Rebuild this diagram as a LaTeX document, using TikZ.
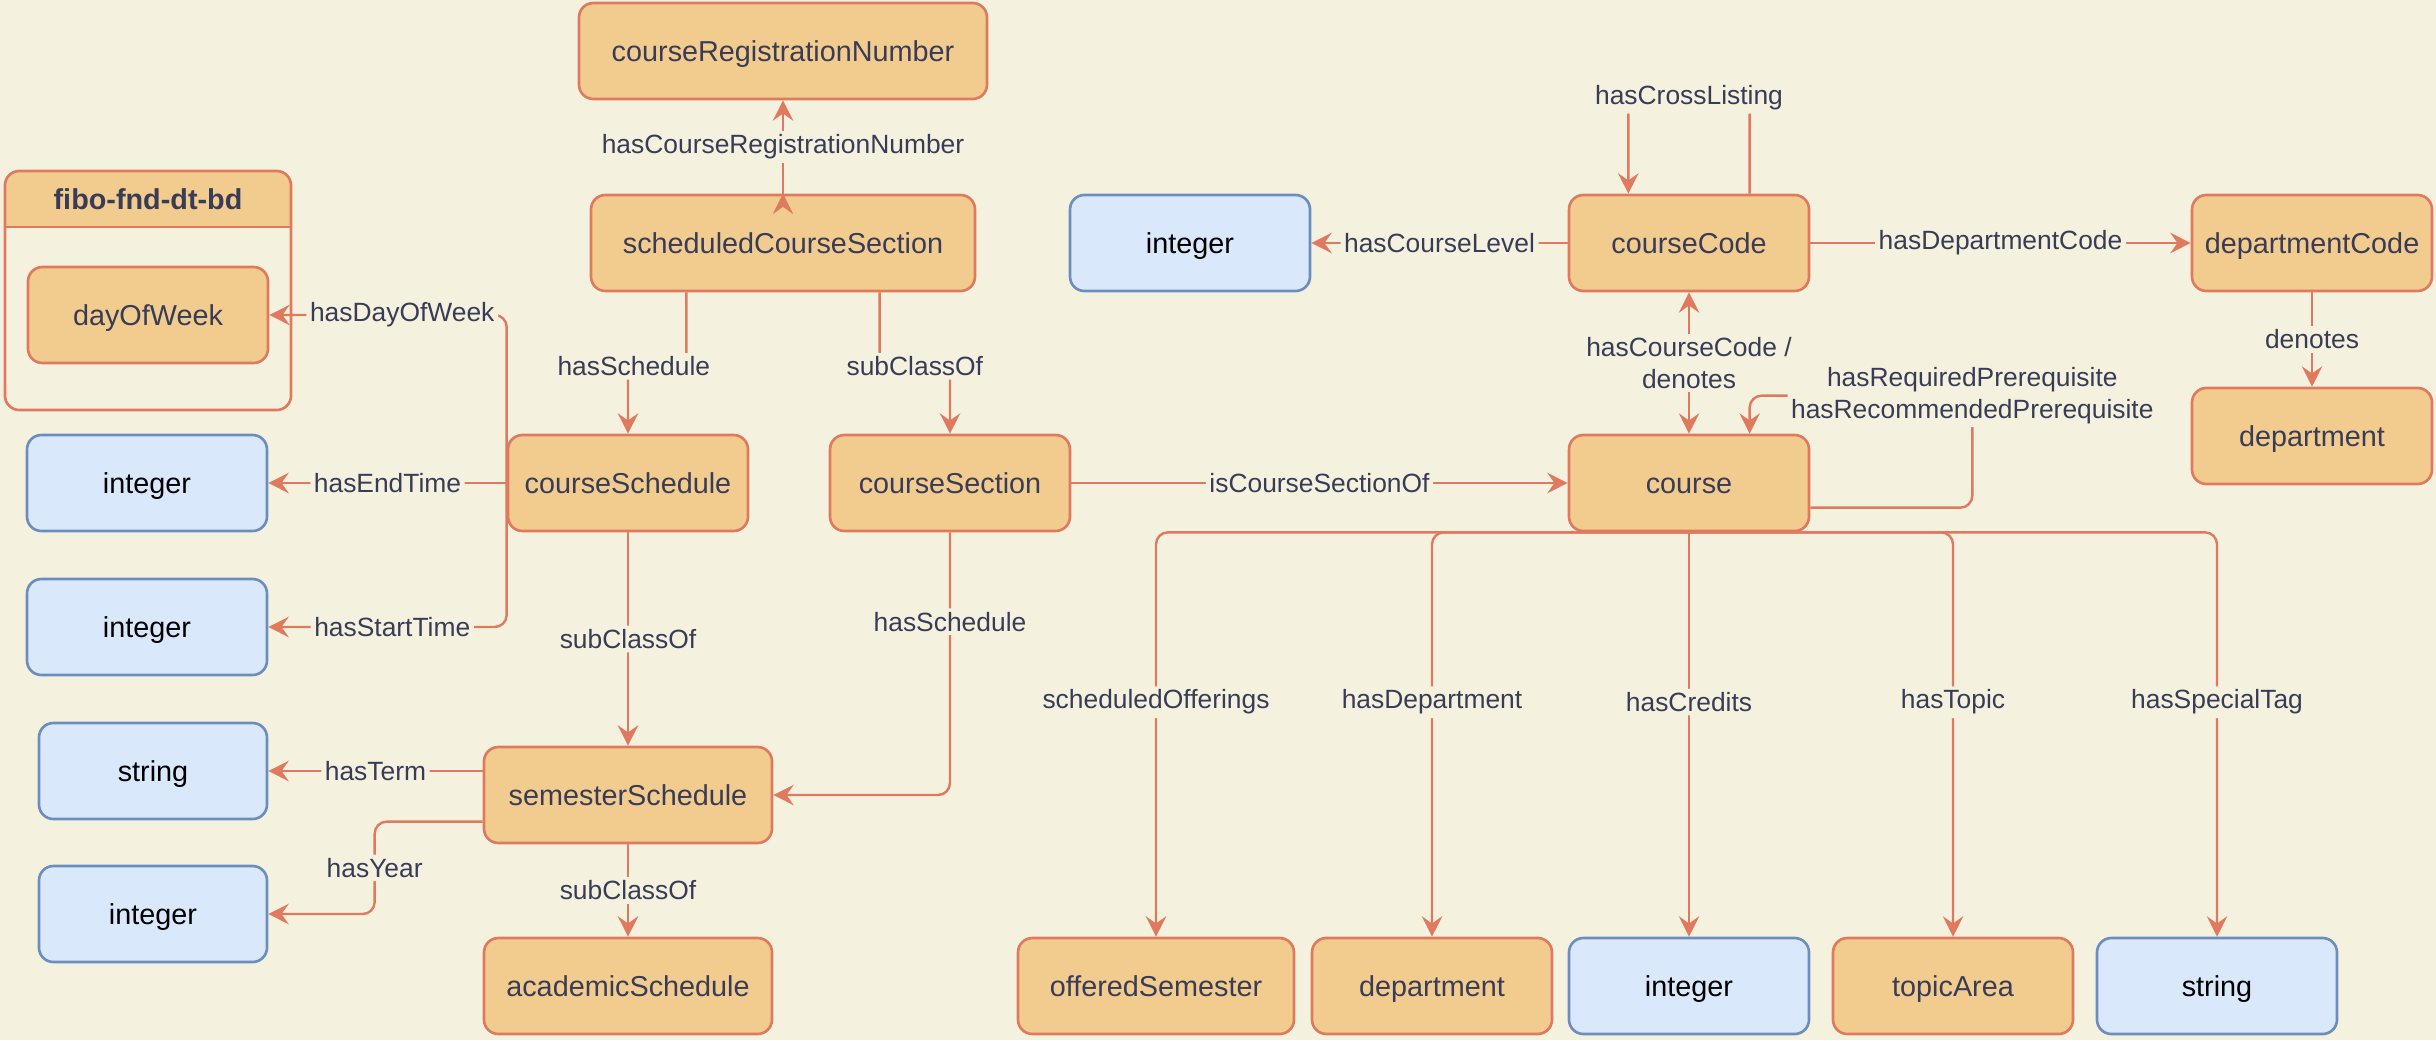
\documentclass[tikz,border=0pt]{standalone}
\usepackage{fontspec}
\setmainfont{Liberation Sans}
\usetikzlibrary{arrows.meta,calc}

\definecolor{bgC}{HTML}{F4F1DE}
\definecolor{clsF}{HTML}{F2CC8F}
\definecolor{clsD}{HTML}{E07A5F}
\definecolor{txtC}{HTML}{393C56}
\definecolor{dtF}{HTML}{DAE8FC}
\definecolor{dtD}{HTML}{6C8EBF}

\begin{document}
\begin{tikzpicture}[
                x=0.41667pt, y=-0.41667pt,
                >={Stealth[length=8.5pt,width=8.5pt,inset=3pt]},
                cls/.style={draw=clsD,fill=clsF,text=txtC,line width=1.1pt,rounded corners=6pt,
                            minimum width=100pt,minimum height=40pt,inner sep=0pt,
                            text height=8.6pt,text depth=0pt,
                            font=\fontsize{12}{14}\selectfont},
                dtype/.style={cls,draw=dtD,fill=dtF,text=black},
                rel/.style={draw,color=clsD,line width=1pt,->,rounded corners=5pt},
                lbl/.style={fill=bgC,text=txtC,inner sep=1.5pt,align=center,
                            font=\fontsize{11}{13}\selectfont}] %

\fill[bgC] (0,0) rectangle (2436,1040);
\useasboundingbox (0,0) rectangle (2436,1040);

                    % fibo-fnd-dt-bd
                    \node[minimum width=119.2pt,minimum height=99.6pt,inner sep=0pt,outer sep=0pt] (FIBO) at (148,290.5) {};
                    \fill[clsF,rounded corners=6pt] (FIBO.north west) rectangle ($(FIBO.north east)+(0,56)$);
                    \fill[clsF] ($(FIBO.north west)+(0,28)$) rectangle ($(FIBO.north east)+(0,56)$);
                    \draw[clsD,line width=1.1pt,rounded corners=6pt] (FIBO.north west) rectangle (FIBO.south east);
                    \draw[clsD,line width=1.1pt] ($(FIBO.north west)+(0,56)$) -- ($(FIBO.north east)+(0,56)$);
                    \node[text=txtC,text height=8.6pt,text depth=0pt,font=\fontsize{12}{14}\selectfont\bfseries] (FIBOT) at ($(FIBO.north)+(0,28)$) {fibo-fnd-dt-bd};
                    \node[cls] (DOW) at (148,315) {dayOfWeek};


                    % 1
                    \node[cls,minimum width=170pt] (CRN) at (783,51) {courseRegistrationNumber};
                    \node[cls,minimum width=160pt] (SCS) at (783,243) {scheduledCourseSection};

                    % 2
                    \node[dtype] (INTEND) at (147,483) {integer};
                    \node[cls] (CSCHED) at (628,483) {courseSchedule};
                    \node[cls] (CSEC) at (950,483) {courseSection};
                    \node[cls] (COURSE) at (1689,483) {course};
                    \node[dtype] (INTSTART) at (147,627) {integer};

                    % 3
                    \node[dtype,minimum width=95pt] (STRTERM) at (153,771) {string};
                    \node[cls,minimum width=120pt] (SEMS) at (628,795) {semesterSchedule};
                    \node[dtype,minimum width=95pt] (INTYEAR) at (153,914) {integer};
                    \node[cls,minimum width=120pt] (ACADS) at (628,986) {academicSchedule};

                    % 4
                    \node[dtype] (INTLEVEL) at (1190,243) {integer};
                    \node[cls] (CCODE) at (1689,243) {courseCode};
                    \node[cls] (DCODE) at (2312,243) {departmentCode};
                    \node[cls] (DEPT) at (2312,436) {department};

                    % 5
                    \node[cls,minimum width=115pt] (OFFSEM) at (1156,986) {offeredSemester};
                    \node[cls] (DEPTB) at (1432,986) {department};
                    \node[dtype] (INTCRED) at (1689,986) {integer};
                    \node[cls] (TOPIC) at (1953,986) {topicArea};
                    \node[dtype] (STRTAG) at (2217,986) {string};


%%%%%%%%%%%%%%%%%%%%%%%%%%%%%%%%%%%%%%%%%%%%%%%%%%%%%%%%%%%%%%%%%%%%%%%%%%%%%%%%%%%%

                    % schedules
                    \path[rel] (SCS.north) edge node[lbl]{hasCourseRegistrationNumber} (CRN.south);
                    \draw[rel] ($(SCS.south west)!0.25!(SCS.south east)$) -- ++(0,74) -| node[lbl,pos=0.45]{hasSchedule} (CSCHED.north);
                    \draw[rel] ($(SCS.south west)!0.75!(SCS.south east)$) -- ++(0,74) -| node[lbl,pos=0.25]{subClassOf} (CSEC.north);
                    \draw[rel] (CSCHED.west) |- node[lbl,pos=0.72]{hasDayOfWeek} (DOW.east);
                    \path[rel] (CSCHED) edge node[lbl]{hasEndTime} (INTEND);
                    \draw[rel] (CSCHED.west) |- node[lbl,pos=0.74]{hasStartTime} (INTSTART.east);
                    \path[rel] (CSCHED) edge node[lbl]{subClassOf} (SEMS);
                    \draw[rel] (CSEC.south) |- node[lbl,pos=0.17]{hasSchedule} (SEMS.east);
                    \draw[rel] (SEMS.west |- STRTERM) -- node[lbl]{hasTerm} (STRTERM.east);
                    \draw[rel] ($(SEMS.north west)!0.77!(SEMS.south west)$) -- ++(-108,0) |- node[lbl,pos=0.25]{hasYear} (INTYEAR.east);
                    \path[rel] (SEMS) edge node[lbl]{subClassOf} (ACADS);

                    % course
                    \path[rel] (CSEC) edge node[lbl]{isCourseSectionOf} (COURSE);
                    \path[rel] (CCODE) edge node[lbl]{hasCourseLevel} (INTLEVEL);
                    \path[rel] (CCODE) edge node[lbl]{hasDepartmentCode} (DCODE);
                    \path[rel] (DCODE) edge node[lbl]{denotes} (DEPT);
                    \draw[rel] ($(CCODE.north west)!0.75!(CCODE.north east)$) -- ++(0,-96) -| node[lbl,pos=0.25]{hasCrossListing} ($(CCODE.north west)!0.25!(CCODE.north east)$);
                    \path[rel,<->] (COURSE) edge node[lbl]{hasCourseCode /\\denotes} (CCODE);
                    \draw[rel] ($(COURSE.north east)!0.75!(COURSE.south east)$) -- ++(162,0) -- ++(0,-112)
                        node[lbl]{hasRequiredPrerequisite\\hasRecommendedPrerequisite} -| ($(COURSE.north west)!0.75!(COURSE.north east)$);

                    % course properties
                    \draw[rel] (COURSE.south) -| node[lbl,pos=0.71]{scheduledOfferings} (OFFSEM.north);
                    \draw[rel] (COURSE.south) -| node[lbl,pos=0.71]{hasDepartment} (DEPTB.north);
                    \path[rel] (COURSE) edge node[lbl,pos=0.42]{hasCredits} (INTCRED);
                    \draw[rel] (COURSE.south) -| node[lbl,pos=0.71]{hasTopic} (TOPIC.north);
                    \draw[rel] (COURSE.south) -| node[lbl,pos=0.71]{hasSpecialTag} (STRTAG.north);


\end{tikzpicture}
\end{document}
